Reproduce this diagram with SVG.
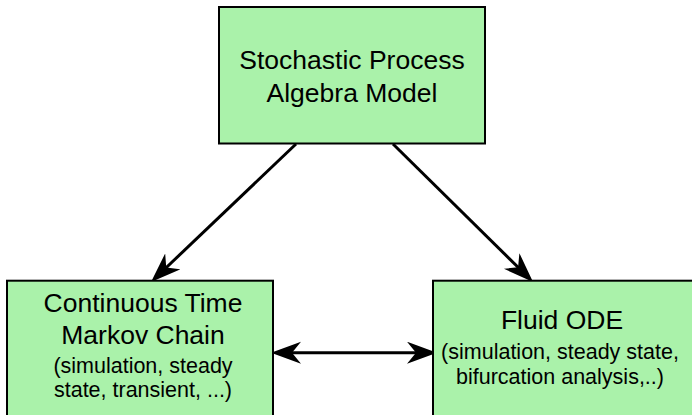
<svg xmlns="http://www.w3.org/2000/svg" width="692" height="415" viewBox="0 0 692 415">
<style>
.box{fill:#aaf2aa;stroke:#000;stroke-width:2}
.t{font-family:"Liberation Sans",Arial,sans-serif;font-size:26.5px;fill:#000;text-anchor:middle}
.s{font-family:"Liberation Sans",Arial,sans-serif;font-size:21.5px;fill:#000;text-anchor:middle}
.c{stroke:#000;stroke-width:3;fill:none;marker-end:url(#ah)}
</style>
<defs>
<marker id="ah" markerUnits="userSpaceOnUse" markerWidth="40" markerHeight="30" refX="19" refY="11" orient="auto-start-reverse">
<path d="M30,11 L0,0 L9,11 L0,22 Z" fill="#000"/>
</marker>
</defs>
<rect width="692" height="415" fill="#fff"/>
<g id="connectors">
<path class="c" d="M296,144 L159,274.5"/>
<path class="c" d="M393,144 L525.2,274.3"/>
<path class="c" d="M282,352.7 L426,352.7" style="marker-start:url(#ah)"/>
</g>
<g id="spa">
<rect class="box" x="219" y="7" width="266" height="136.5"/>
<text class="t" x="352" y="68.5">Stochastic Process</text>
<text class="t" x="352" y="101.5">Algebra Model</text>
</g>
<g id="ctmc">
<rect class="box" x="7" y="280.7" width="266" height="145"/>
<text class="t" x="143" y="312">Continuous Time</text>
<text class="t" x="143" y="344">Markov Chain</text>
<text class="s" x="143" y="373">(simulation, steady</text>
<text class="s" x="143" y="397">state, transient, ...)</text>
</g>
<g id="ode">
<rect class="box" x="433" y="280.7" width="266" height="145"/>
<text class="t" x="562" y="328.5">Fluid ODE</text>
<text class="s" x="560" y="358.5">(simulation, steady state,</text>
<text class="s" x="560" y="383.5">bifurcation analysis,..)</text>
</g>
</svg>
